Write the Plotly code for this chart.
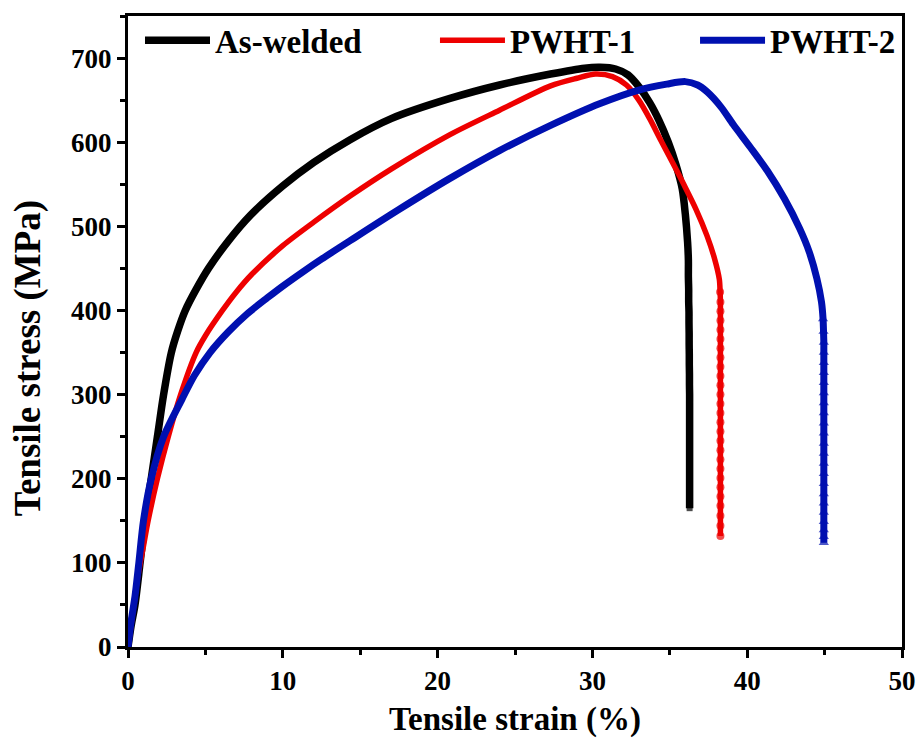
import plotly.graph_objects as go

# ---- data ----
aw_strain = [0, 0.2, 0.45, 0.78, 1.1, 1.5, 1.9, 2.3, 2.8, 3.2, 3.7, 4.4, 5.2, 6.5, 7.9, 10, 12, 14.35, 17,
             20.8, 24, 27.3, 29.5, 30.5, 31.5, 32.3, 33.0, 33.7, 34.3, 34.9, 35.4, 35.8, 36.0, 36.15]
aw_stress = [0, 25, 50, 100, 150, 200, 250, 300, 350, 375, 400, 425, 450, 483, 513, 548, 576, 603, 628,
             652, 668, 681, 688, 689, 687, 680, 666, 647, 626, 600, 573, 545, 515, 481]
aw_tail_strain = [36.2, 36.2, 36.22, 36.22, 36.24, 36.24, 36.25, 36.25, 36.26, 36.26, 36.27, 36.27, 36.28,
                  36.28, 36.28, 36.28, 36.28, 36.28, 36.28, 36.28, 36.28, 36.28, 36.28, 36.28, 36.28]
aw_tail_stress = [460, 440, 425, 410, 398, 385, 372, 360, 348, 336, 324, 312, 300, 290, 278, 266, 255, 244,
                  233, 222, 211, 199, 187, 176, 165]

p1_strain = [0, 0.3, 0.6, 1.0, 1.3, 1.9, 2.6, 3.4, 4.4, 5.0, 6.1, 7.0, 8.0, 10, 12, 14.35, 17, 20.8, 24,
             27.3, 29, 30.2, 31.3, 32.2, 33.0, 33.7, 34.4, 35.2, 35.9, 36.7, 37.4, 37.9, 38.2]
p1_stress = [0, 40, 80, 120, 150, 200, 250, 300, 350, 370, 400, 422, 443, 477, 505, 536, 568, 609, 638,
             667, 676, 681, 678, 668, 650, 628, 603, 575, 550, 520, 489, 461, 437]
p1_tail_strain = [38.25, 38.27, 38.27, 38.27, 38.27, 38.27, 38.27, 38.27, 38.27, 38.27, 38.27, 38.27, 38.27,
                  38.27, 38.27, 38.27, 38.27, 38.27, 38.27, 38.27, 38.27, 38.27, 38.27, 38.27, 38.27,
                  38.27, 38.27]
p1_tail_stress = [422, 410, 399, 388, 377, 366, 355, 344, 333, 322, 311, 300, 289, 278, 267, 256, 245, 234,
                  223, 212, 201, 190, 179, 168, 156, 144, 132]

p2_strain = [0, 0.2, 0.45, 0.7, 1.0, 1.5, 2.3, 3.5, 4.3, 5.3, 6.5, 7.7, 9.0, 10, 11.3, 12.5, 14.35, 17.5,
             20.8, 24, 27.3, 30.5, 33, 34.8, 36.0, 36.8, 37.4, 38.3, 39.1, 40.2, 41.3, 42.4, 43.4, 44.0,
             44.5, 44.8]
p2_stress = [0, 30, 60, 100, 150, 200, 250, 295, 323, 350, 375, 396, 415, 429, 446, 461, 483, 520,
             557, 590, 620, 646, 662, 669, 672, 668, 660, 642, 621, 594, 566, 533, 497, 470,
             438, 410]
p2_tail_strain = [44.9, 44.93, 44.95, 44.95, 44.95, 44.95, 44.95, 44.95, 44.95, 44.95, 44.95, 44.95,
                  44.95, 44.95, 44.95, 44.95, 44.95, 44.95, 44.95, 44.95, 44.95, 44.95, 44.95, 44.95]
p2_tail_stress = [390, 375, 362, 350, 338, 326, 314, 302, 290, 278, 266, 254, 242, 230, 218, 206, 194, 182,
                  171, 160, 149, 139, 131, 124]

series = [
    ("As-welded", aw_strain, aw_stress, aw_tail_strain, aw_tail_stress, "#000000", "square", 7.5, 6,
     "legend", 0.0155),
    ("PWHT-1", p1_strain, p1_stress, p1_tail_strain, p1_tail_stress, "#ee0000", "circle", 5.5, 8,
     "legend2", 0.3966),
    ("PWHT-2", p2_strain, p2_stress, p2_tail_strain, p2_tail_stress, "#0010b0", "triangle-up", 7, 9,
     "legend3", 0.7326),
]

FONT = "Liberation Serif"
fig = go.Figure()
legend_cfg = {}
for name, xs, ys, txs, tys, col, sym, lw, ms, leg, lx in series:
    sizes = [0] * len(xs) + [ms] * len(txs)
    fig.add_trace(go.Scatter(
        x=xs + txs, y=ys + tys, name=name, mode="lines+markers", legend=leg, showlegend=True,
        line=dict(color=col, width=lw, shape="spline", smoothing=0.8),
        marker=dict(color=col, symbol=sym, size=sizes, line=dict(width=0)),
    ))
    legend_cfg[leg] = dict(x=lx, y=1.006, xanchor="left", yanchor="top", visible=True,
                           itemwidth=65,
                           font=dict(family=FONT, size=33, color="black", weight="bold"),
                           bgcolor="rgba(0,0,0,0)")

axis_common = dict(
    showline=True, linecolor="black", linewidth=3, mirror=True,
    ticks="outside", ticklen=8, tickwidth=3, tickcolor="black",
    showgrid=False, zeroline=False, automargin=False,
    tickfont=dict(family=FONT, size=27, color="black", weight="bold"),
)
fig.update_xaxes(range=[0, 50], dtick=10, tick0=0,
                 minor=dict(dtick=5, ticks="outside", ticklen=5, tickwidth=3, tickcolor="black"),
                 title=dict(text="Tensile strain (%)", standoff=12,
                            font=dict(family=FONT, size=33, color="black", weight="bold")),
                 **axis_common)
fig.update_yaxes(range=[0, 750], dtick=100, tick0=0,
                 minor=dict(dtick=50, ticks="outside", ticklen=5, tickwidth=3, tickcolor="black"),
                 **axis_common)

fig.add_annotation(text="Tensile stress (MPa)", textangle=-90, xref="paper", yref="paper",
                   x=0, y=(647 - 357) / 634, xshift=-100, xanchor="center", yanchor="middle",
                   showarrow=False,
                   font=dict(family=FONT, size=37, color="black", weight="bold"))

fig.update_layout(
    width=919, height=742,
    margin=dict(l=128, r=17, t=13, b=95),
    plot_bgcolor="white", paper_bgcolor="white",
    font=dict(family=FONT, color="black"),
    showlegend=True,
    **legend_cfg,
)

fig.write_html("out.html")
